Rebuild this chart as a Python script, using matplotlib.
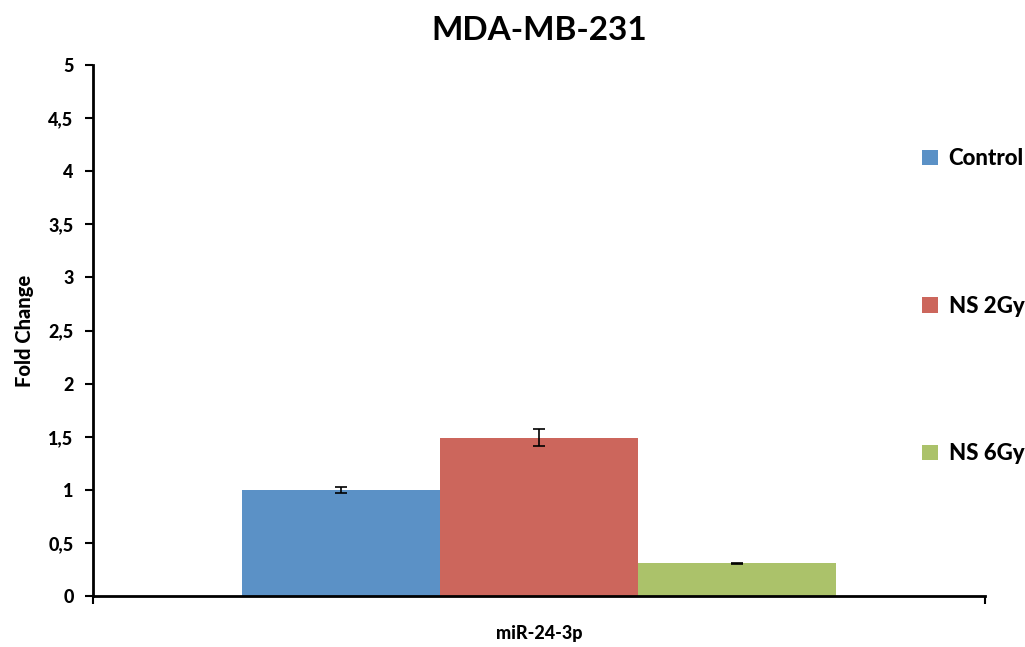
import numpy as np
import matplotlib.pyplot as plt
from matplotlib.patches import Patch

# data
category = "miR-24-3p"
groups = ["Control", "NS 2Gy", "NS 6Gy"]
values = [1.0, 1.49, 0.31]
errors = [0.03, 0.08, 0.005]
colors = ["#5b91c6", "#cc665c", "#abc26a"]
yticks = [0, 0.5, 1, 1.5, 2, 2.5, 3, 3.5, 4, 4.5, 5]

plt.rcParams['font.family'] = ['Lato', 'DejaVu Sans']
plt.rcParams['font.weight'] = 'bold'

fig = plt.figure(figsize=(10.25, 6.47), dpi=100)
ax = fig.add_axes([0.0907, 0.0788, 0.8702, 0.8207])

width = 0.2223
offsets = (np.arange(len(groups)) - 1) * width
for off, v, e, c in zip(offsets, values, errors, colors):
    ax.bar(off, v, width=width, color=c, edgecolor='none')
    ax.errorbar(off, v, yerr=e, fmt='none', ecolor='black', elinewidth=1.2,
                capsize=4, capthick=1.2)

ax.set_xlim(-0.5, 0.5)
ax.set_ylim(0, 5)
ax.set_yticks(yticks)
ax.set_yticklabels([f"{t:g}".replace('.', ',') for t in yticks],
                   fontweight='black', fontsize=13)
ax.set_xticks([-0.5, 0.5])
ax.set_xticklabels(['', ''])
ax.text(0, -0.055, category, transform=ax.get_xaxis_transform(),
        ha='center', va='top', fontsize=13, fontweight='black')

for s in ['top', 'right']:
    ax.spines[s].set_visible(False)
for s in ['left', 'bottom']:
    ax.spines[s].set_linewidth(2)
ax.tick_params(axis='both', direction='out', length=6, width=1.5)
ax.tick_params(axis='y', pad=8)

ax.set_ylabel("Fold Change", fontsize=14.5, fontweight='black', labelpad=10)
ax.set_title("MDA-MB-231", fontsize=24, fontweight='bold', pad=18)

handles = [Patch(facecolor=c, edgecolor='none') for c in colors]
leg = fig.legend(handles, groups, loc='upper left', bbox_to_anchor=(0.88, 0.802),
                 frameon=False, fontsize=16, labelspacing=5.7, handlelength=0.7,
                 handleheight=0.7, handletextpad=0.5)
for t in leg.get_texts():
    t.set_fontweight('black')

fig.savefig("out.png", dpi=100)
